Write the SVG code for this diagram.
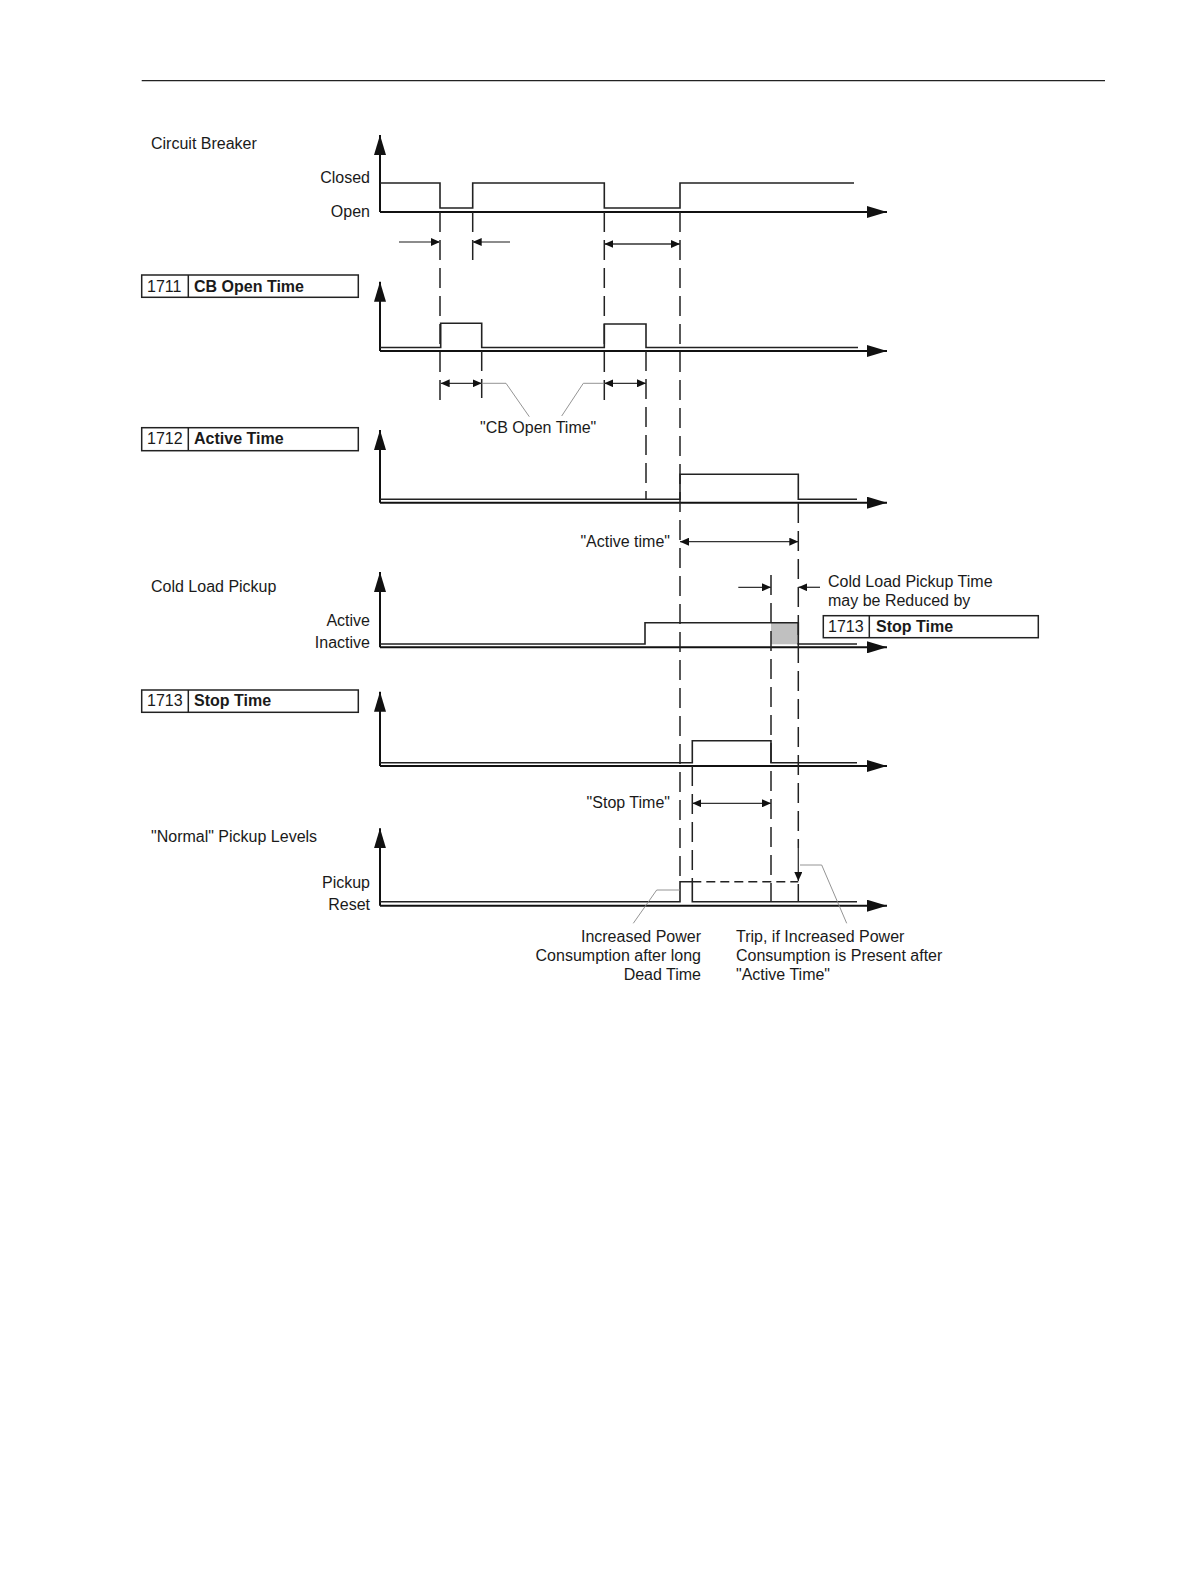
<svg xmlns="http://www.w3.org/2000/svg" width="1191" height="1587" viewBox="0 0 1191 1587">
<defs>
<style>
text{font-family:"Liberation Sans",Arial,sans-serif;font-size:16px;fill:#1a1a1a}
.b{font-weight:bold}
.end{text-anchor:end}
.axis{stroke:#111;stroke-width:2;fill:none}
.sig{stroke:#222;stroke-width:1.6;fill:none}
.dash{stroke:#222;stroke-width:1.5;stroke-dasharray:20 8;fill:none}
.sdash{stroke:#222;stroke-width:1.5;stroke-dasharray:9 5;fill:none}
.dim{stroke:#333;stroke-width:1.3;fill:none}
.dimg{stroke:#666;stroke-width:1.3;fill:none}
.lead{stroke:#888;stroke-width:0.9;fill:none}
.box{fill:#fff;stroke:#222;stroke-width:1.5}
</style>
<marker id="ah" markerUnits="userSpaceOnUse" markerWidth="20" markerHeight="12" refX="20" refY="6" orient="auto" viewBox="0 0 20 12"><path d="M0,0 L20,6 L0,12 z" fill="#111"/></marker>
<marker id="sa" markerUnits="userSpaceOnUse" markerWidth="9" markerHeight="8" refX="9" refY="4" orient="auto-start-reverse" viewBox="0 0 9 8"><path d="M0,0 L9,4 L0,8 z" fill="#111"/></marker>
</defs>
<rect width="1191" height="1587" fill="#fff"/>
<line x1="141.7" y1="80.7" x2="1105" y2="80.7" stroke="#222" stroke-width="1.3"/>

<g id="chart-cb">
<text x="151" y="149">Circuit Breaker</text>
<text class="end" x="370" y="183">Closed</text>
<text class="end" x="370" y="217">Open</text>
<line class="axis" x1="380" y1="212" x2="380" y2="135" marker-end="url(#ah)"/>
<line class="axis" x1="380" y1="212" x2="887" y2="212" marker-end="url(#ah)"/>
<polyline class="sig" points="380,183 440,183 440,208 472.7,208 472.7,183 604.3,183 604.3,208 680,208 680,183 854,183"/>
</g>

<g id="chart-1711">
<rect class="box" x="141.7" y="275" width="216.6" height="22.3"/>
<line x1="188.3" y1="275" x2="188.3" y2="297.3" stroke="#222" stroke-width="1.5"/>
<text x="147" y="291.5">1711</text>
<text class="b" x="194" y="291.5">CB Open Time</text>
<line class="axis" x1="380" y1="351" x2="380" y2="281.7" marker-end="url(#ah)"/>
<line class="axis" x1="380" y1="351" x2="887" y2="351" marker-end="url(#ah)"/>
<polyline class="sig" points="380,347.5 440.7,347.5 440.7,323.3 481.7,323.3 481.7,347.5 604.3,347.5 604.3,324 646,324 646,347.5 858,347.5"/>
</g>

<g id="chart-1712">
<rect class="box" x="141.7" y="427.7" width="216.6" height="23"/>
<line x1="188.3" y1="427.7" x2="188.3" y2="450.7" stroke="#222" stroke-width="1.5"/>
<text x="147" y="444">1712</text>
<text class="b" x="194" y="444">Active Time</text>
<line class="axis" x1="380" y1="502.7" x2="380" y2="430" marker-end="url(#ah)"/>
<line class="axis" x1="380" y1="502.7" x2="887" y2="502.7" marker-end="url(#ah)"/>
<polyline class="sig" points="380,499.3 680,499.3 680,474.3 798.3,474.3 798.3,499.3 857,499.3"/>
</g>

<g id="chart-clp">
<text x="151" y="591.5">Cold Load Pickup</text>
<text class="end" x="370" y="625.5">Active</text>
<text class="end" x="370" y="648">Inactive</text>
<rect x="771" y="622.7" width="27.3" height="21.6" fill="#c0c0c0"/>
<line class="axis" x1="380" y1="647.3" x2="380" y2="572" marker-end="url(#ah)"/>
<line class="axis" x1="380" y1="647.3" x2="887" y2="647.3" marker-end="url(#ah)"/>
<polyline class="sig" points="380,644 645,644 645,622.7 798.3,622.7 798.3,644 857,644"/>
<text x="828" y="586.5">Cold Load Pickup Time</text>
<text x="828" y="606">may be Reduced by</text>
<rect class="box" x="823.3" y="615.7" width="215" height="22"/>
<line x1="869.3" y1="615.7" x2="869.3" y2="637.7" stroke="#222" stroke-width="1.5"/>
<text x="828" y="632">1713</text>
<text class="b" x="876" y="632">Stop Time</text>
</g>

<g id="chart-1713">
<rect class="box" x="141.7" y="690" width="216.6" height="22.3"/>
<line x1="188.3" y1="690" x2="188.3" y2="712.3" stroke="#222" stroke-width="1.5"/>
<text x="147" y="706">1713</text>
<text class="b" x="194" y="706">Stop Time</text>
<line class="axis" x1="380" y1="766" x2="380" y2="691.7" marker-end="url(#ah)"/>
<line class="axis" x1="380" y1="766" x2="887" y2="766" marker-end="url(#ah)"/>
<polyline class="sig" points="380,762.7 692.3,762.7 692.3,740.7 771,740.7 771,762.7 857,762.7"/>
</g>

<g id="chart-pickup">
<text x="151" y="841.7">"Normal" Pickup Levels</text>
<text class="end" x="370" y="887.7">Pickup</text>
<text class="end" x="370" y="910">Reset</text>
<line class="axis" x1="380" y1="905.7" x2="380" y2="828.3" marker-end="url(#ah)"/>
<line class="axis" x1="380" y1="905.7" x2="887" y2="905.7" marker-end="url(#ah)"/>
<polyline class="sig" points="380,901.7 680,901.7 680,881.7 692.3,881.7 692.3,901.7 857,901.7"/>
<line class="sdash" x1="692.3" y1="881.7" x2="798.3" y2="881.7"/>
<text class="end" x="701" y="942">Increased Power</text>
<text class="end" x="701" y="961">Consumption after long</text>
<text class="end" x="701" y="980">Dead Time</text>
<text x="736" y="942">Trip, if Increased Power</text>
<text x="736" y="961">Consumption is Present after</text>
<text x="736" y="980">"Active Time"</text>
</g>

<g id="connectors">
<line class="dash" x1="440" y1="212" x2="440" y2="400"/>
<line class="dash" x1="472.7" y1="212" x2="472.7" y2="268"/>
<line class="dash" x1="481.7" y1="351" x2="481.7" y2="398"/>
<line class="dash" x1="604.3" y1="212" x2="604.3" y2="400"/>
<line class="dash" x1="646" y1="351" x2="646" y2="500"/>
<line class="dash" x1="680" y1="212" x2="680" y2="881.7"/>
<line class="dash" x1="692.3" y1="766" x2="692.3" y2="881.7"/>
<line class="dash" x1="771" y1="575" x2="771" y2="902"/>
<line class="dash" x1="798.3" y1="503" x2="798.3" y2="848"/>
<line class="dash" x1="798.3" y1="884" x2="798.3" y2="902"/>

<line class="dimg" x1="399" y1="242" x2="440" y2="242" marker-end="url(#sa)"/>
<line class="dimg" x1="510" y1="242" x2="472.7" y2="242" marker-end="url(#sa)"/>
<line class="dim" x1="604.3" y1="244" x2="680" y2="244" marker-start="url(#sa)" marker-end="url(#sa)"/>
<line class="dim" x1="440.7" y1="383.3" x2="481.7" y2="383.3" marker-start="url(#sa)" marker-end="url(#sa)"/>
<line class="dim" x1="604.3" y1="383.3" x2="646" y2="383.3" marker-start="url(#sa)" marker-end="url(#sa)"/>
<line class="dim" x1="680" y1="541.7" x2="798.3" y2="541.7" marker-start="url(#sa)" marker-end="url(#sa)"/>
<line class="dim" x1="738.3" y1="587.3" x2="771" y2="587.3" marker-end="url(#sa)"/>
<line class="dim" x1="820" y1="587.3" x2="798.3" y2="587.3" marker-end="url(#sa)"/>
<line class="dim" x1="692.3" y1="803.3" x2="771" y2="803.3" marker-start="url(#sa)" marker-end="url(#sa)"/>
<line class="dim" x1="798.3" y1="848" x2="798.3" y2="881" marker-end="url(#sa)"/>

<polyline class="lead" points="481.7,383.3 506,383.3 529.3,416.7"/>
<polyline class="lead" points="604.3,383.3 583.3,383.3 561.7,416"/>
<polyline class="lead" points="680,890 656.7,890 633.3,923.3"/>
<polyline class="lead" points="800,865 821.7,865 846.7,923.3"/>

<text x="480" y="433">"CB Open Time"</text>
<text class="end" x="670" y="547">"Active time"</text>
<text class="end" x="670" y="808">"Stop Time"</text>
</g>
</svg>
